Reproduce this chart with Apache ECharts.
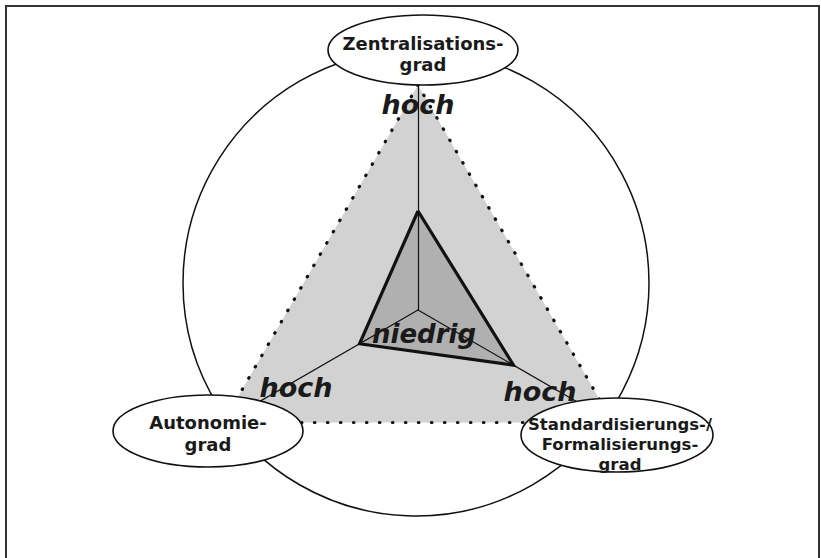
<!DOCTYPE html>
<html>
<head>
<meta charset="utf-8">
<script src="https://cdn.jsdelivr.net/npm/echarts@6/dist/echarts.min.js"></script>
<style>
  html, body { margin: 0; padding: 0; background: #fff; }
  #main { width: 821px; height: 558px; }
</style>
</head>
<body>
<div id="main"></div>
<script>
  // Dimensionen (oben, links unten, rechts unten)
  var dimensions = ['Zentralisations-\ngrad', 'Autonomie-\ngrad', 'Standardisierungs-/\nFormalisierungs-\ngrad'];
  var maxValues = [10, 10, 10];
  var hochValues = [10, 10, 10];      // aeusseres Dreieck = "hoch"
  var profilValues = [4.4, 3.0, 4.9];  // inneres Profil
  var labelHoch = 'hoch';
  var labelNiedrig = 'niedrig';

  var center = [418, 310];
  var radius = 225;

  var indicator = dimensions.map(function (d, i) {
    return { name: d, min: 0, max: maxValues[i] };
  });

  var boldFont = 'bold 18px "DejaVu Sans"';
  var italicFont = 'italic bold 27px "DejaVu Sans"';

  var myChart = echarts.init(document.getElementById('main'), null, { renderer: 'svg' });
  var option = {
    backgroundColor: '#fff',
    animation: false,
    radar: {
      center: center,
      radius: radius,
      startAngle: 90,
      splitNumber: 1,
      shape: 'polygon',
      indicator: indicator,
      z: 2,
      axisName: { show: false },
      splitLine: { show: false },
      splitArea: { show: false },
      axisTick: { show: false },
      axisLabel: { show: false },
      axisLine: { lineStyle: { color: '#111', width: 1.2 } }
    },
    series: [
      // Flaechen (unter den Achsen)
      {
        name: 'Flaechen',
        type: 'radar',
        symbol: 'none',
        silent: true,
        z: 1,
        lineStyle: { width: 0, opacity: 0 },
        data: [
          { value: hochValues, areaStyle: { color: '#d2d2d2', opacity: 1 } },
          { value: profilValues, areaStyle: { color: '#b0b0b0', opacity: 1 } }
        ]
      },
      // Umrisse (ueber den Achsen)
      {
        name: 'hoch',
        type: 'radar',
        symbol: 'none',
        silent: true,
        z: 3,
        lineStyle: { color: '#111', width: 3.2, type: [0.5, 12.5], cap: 'round' },
        data: [{ value: hochValues }]
      },
      {
        name: 'Profil',
        type: 'radar',
        symbol: 'none',
        silent: true,
        z: 3,
        lineStyle: { color: '#111', width: 3.2, join: 'miter' },
        data: [{ value: profilValues }]
      }
    ],
    graphic: [
      // Rahmen
      { type: 'rect', z: 0, shape: { x: 6, y: 6, width: 813, height: 600 },
        style: { fill: 'none', stroke: '#333', lineWidth: 2 } },
      // grosser Kreis
      { type: 'circle', z: 0, shape: { cx: 416, cy: 283, r: 233 },
        style: { fill: 'none', stroke: '#111', lineWidth: 1.5 } },
      // Ellipsen
      { type: 'ellipse', z: 50, shape: { cx: 423, cy: 50, rx: 95, ry: 35 },
        style: { fill: '#fff', stroke: '#111', lineWidth: 1.6 } },
      { type: 'ellipse', z: 50, shape: { cx: 208, cy: 431, rx: 95, ry: 36 },
        style: { fill: '#fff', stroke: '#111', lineWidth: 1.6 } },
      { type: 'ellipse', z: 50, shape: { cx: 617, cy: 435, rx: 96, ry: 37 },
        style: { fill: '#fff', stroke: '#111', lineWidth: 1.6 } },
      { type: 'text', z: 60, style: { text: dimensions[0], x: 423, y: 54, font: boldFont,
        fill: '#1a1a1a', align: 'center', verticalAlign: 'middle', lineHeight: 21 } },
      { type: 'text', z: 60, style: { text: dimensions[1], x: 208, y: 433, font: boldFont,
        fill: '#1a1a1a', align: 'center', verticalAlign: 'middle', lineHeight: 22 } },
      { type: 'text', z: 60, style: { text: dimensions[2], x: 620, y: 444, font: 'bold 16.5px "DejaVu Sans"',
        fill: '#1a1a1a', align: 'center', verticalAlign: 'middle', lineHeight: 20 } },
      // hoch / niedrig
      { type: 'text', z: 60, style: { text: labelHoch, x: 418, y: 104, font: italicFont,
        fill: '#1a1a1a', align: 'center', verticalAlign: 'middle' } },
      { type: 'text', z: 60, style: { text: labelHoch, x: 296, y: 387, font: italicFont,
        fill: '#1a1a1a', align: 'center', verticalAlign: 'middle' } },
      { type: 'text', z: 60, style: { text: labelHoch, x: 540, y: 391, font: italicFont,
        fill: '#1a1a1a', align: 'center', verticalAlign: 'middle' } },
      { type: 'text', z: 60, style: { text: labelNiedrig, x: 424, y: 334, font: 'italic bold 26px "DejaVu Sans"',
        fill: '#1a1a1a', align: 'center', verticalAlign: 'middle' } }
    ]
  };
  myChart.setOption(option);
</script>
</body>
</html>
